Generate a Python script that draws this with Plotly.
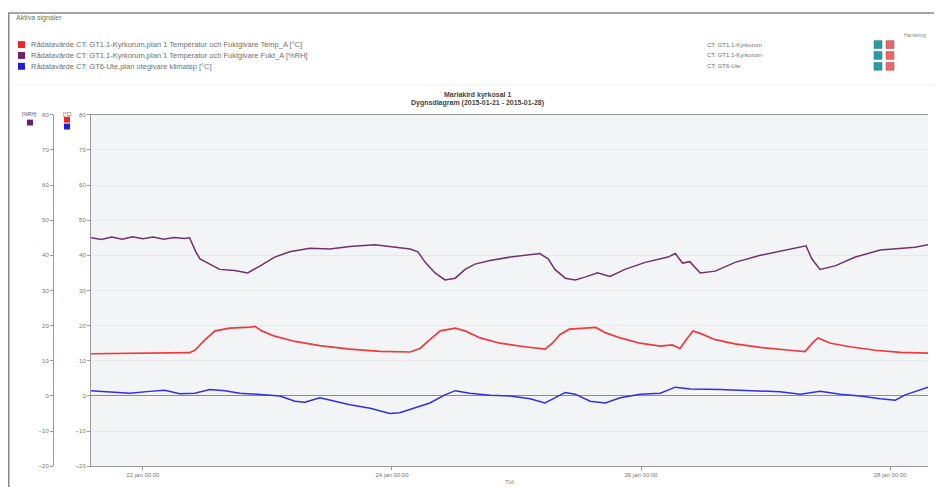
import pandas as pd
import plotly.graph_objects as go

# ---------------- data ----------------
# hours after 2015-01-21 00:00
rh_hours = [14, 16, 18, 20, 22, 24, 26, 28, 30, 32, 33, 34.2, 35, 36.9, 38.8, 41.7, 44.2, 46.6, 49.4, 52.3,
            56.2, 60, 63.9, 68.7, 72.6, 75.5, 77, 78.4, 80.3, 82.2, 84.2, 86.1, 88, 90.9, 94.8, 100.5, 102.1,
            103.4, 105.4, 107.3, 109.2, 111.6, 114, 116.9, 120.8, 125.2, 126.6, 128, 129.4, 131.4, 134.3, 138.1,
            143, 147.8, 150.7, 151.8, 152.9, 154.5, 157.4, 161.3, 166.1, 170, 172.8, 175.3]
rh_values = [45, 44.5, 45.2, 44.6, 45.3, 44.7, 45.2, 44.6, 45.1, 44.8, 45, 41, 39, 37.5, 36, 35.7, 35, 37, 39.5, 41,
             42, 41.8, 42.5, 43, 42.3, 41.8, 41, 38, 35, 33, 33.5, 36, 37.5, 38.5, 39.5, 40.5, 39,
             36, 33.5, 33, 33.8, 35, 34, 36, 38, 39.5, 40.5, 37.8, 38.2, 35, 35.5, 38,
             40, 41.5, 42.3, 42.7, 39, 36, 37, 39.5, 41.5, 42, 42.3, 43]

temp_hours = [14, 25.5, 33, 34, 36, 37.9, 40.8, 44.6, 45.6, 46.9, 49.4, 53.3, 58.1, 63.9, 69.7, 75.5, 77.4, 79.3,
              81.3, 84.2, 86.1, 89, 92.8, 97.6, 101.5, 102.9, 104.4, 106.2, 108.4, 111.3, 113.1, 116, 119.8,
              123.7, 126, 127.5, 128.7, 130, 131.4, 134.3, 138.1, 143, 148.7, 151.6, 153, 154.1, 156.5, 160.3,
              165.1, 170, 175.3]
temp_values = [12, 12.2, 12.3, 13, 16, 18.5, 19.3, 19.6, 19.8, 18.5, 17, 15.5, 14.3, 13.3, 12.7, 12.5, 13.5, 16,
               18.5, 19.3, 18.5, 16.5, 15, 14, 13.3, 15, 17.5, 19, 19.3, 19.5, 18, 16.5, 15,
               14.2, 14.5, 13.5, 16, 18.5, 17.8, 16, 14.8, 13.8, 13, 12.6, 15, 16.5, 15, 14,
               13, 12.4, 12.2]

out_hours = [14, 17.6, 21.5, 25.3, 28.2, 31.1, 34, 36.9, 39.8, 42.7, 46.6, 50.4, 53.3, 55.2, 58.1, 61, 63.9, 67.8,
             71.6, 73.5, 76.4, 79.3, 82.2, 84.2, 87, 90.9, 94.8, 98.6, 101.5, 103.4, 105.4, 107.3, 110.2, 113.1,
             116, 119.8, 123.7, 126.6, 129.5, 135.2, 141, 146.8, 150.7, 154.5, 158.4, 162.2, 166.1, 169, 170.9,
             172.8, 175.3]
out_values = [1.5, 1.2, 0.8, 1.3, 1.6, 0.6, 0.8, 1.8, 1.5, 0.8, 0.3, 0, -1.5, -1.8, -0.5, -1.5, -2.5, -3.5,
              -5, -4.8, -3.5, -2, 0.3, 1.5, 0.8, 0.2, 0, -0.8, -2, -0.5, 1, 0.5, -1.5, -2,
              -0.5, 0.5, 0.8, 2.5, 2, 1.8, 1.5, 1.2, 0.5, 1.3, 0.5, 0, -0.8, -1.2, 0.3,
              1.2, 2.5]

y_ticks = [80, 70, 60, 50, 40, 30, 20, 10, 0, -10, -20]
x_tick_times = ["2015-01-22 00:00", "2015-01-24 00:00", "2015-01-26 00:00", "2015-01-28 00:00"]
x_tick_labels = ["22 jan 00:00", "24 jan 00:00", "26 jan 00:00", "28 jan 00:00"]

series_names = [
    "Rådatavärde CT: GT1.1-Kyrkorum,plan 1 Temperatur och Fuktgivare Temp_A [°C]",
    "Rådatavärde CT: GT1.1-Kyrkorum,plan 1 Temperatur och Fuktgivare Fukt_A [%RH]",
    "Rådatavärde CT: GT6-Ute,plan utegivare klimatsp [°C]",
]
series_sources = ["CT: GT1.1-Kyrkorum", "CT: GT1.1-Kyrkorum", "CT: GT6-Ute"]
series_colors = ["#e8262b", "#6d1f78", "#1f1fd6"]
line_colors = ["#ee3a3f", "#73306f", "#3030e0"]

title_lines = ["Mariakird kyrkosal 1", "Dygnsdiagram (2015-01-21 - 2015-01-28)"]

base = pd.Timestamp("2015-01-21 00:00")
def to_time(hours):
    return [base + pd.Timedelta(hours=h) for h in hours]

# the page body has an 8px margin: the figure is placed at (8, 8)
OFF = 8
W, H = 942 - OFF, 490 - OFF
def px(x):
    return (x - OFF) / W
def py(y):
    return 1 - (y - OFF) / H

fig = go.Figure()
fig.add_trace(go.Scatter(x=to_time(temp_hours), y=temp_values, mode="lines",
                         line=dict(color=line_colors[0], width=1.7), yaxis="y", name=series_names[0]))
fig.add_trace(go.Scatter(x=to_time(rh_hours), y=rh_values, mode="lines",
                         line=dict(color=line_colors[1], width=1.5), yaxis="y2", name=series_names[1]))
fig.add_trace(go.Scatter(x=to_time(out_hours), y=out_values, mode="lines",
                         line=dict(color=line_colors[2], width=1.5), yaxis="y", name=series_names[2]))

x0, x1 = px(91), px(928)
yb, yt = py(469), py(113)
tickfont = dict(family="Liberation Sans, Arial", size=6, color="#777")

fig.update_layout(
    width=W, height=H,
    margin=dict(l=0, r=0, t=0, b=0),
    paper_bgcolor="white",
    plot_bgcolor="#f3f4f6",
    showlegend=False,
    xaxis=dict(domain=[x0, x1], type="date",
               range=[base + pd.Timedelta(hours=14), base + pd.Timedelta(hours=175.3)],
               tickvals=x_tick_times, ticktext=x_tick_labels, tickfont=tickfont,
               showgrid=False, showline=True, linecolor="#999", linewidth=1, mirror=True,
               ticks="outside", ticklen=3, tickcolor="#999", zeroline=False,
               title=dict(text="Tid", font=dict(size=6, color="#777"), standoff=2)),
    yaxis=dict(domain=[yb, yt], range=[-20, 80], tickvals=y_ticks, tickfont=tickfont,
               showgrid=True, gridcolor="#e8e9ec", gridwidth=1,
               zeroline=True, zerolinecolor="#8c8c8c", zerolinewidth=1,
               showline=True, linecolor="#999", linewidth=1, ticks="outside", ticklen=3,
               tickcolor="#999", anchor="x"),
    yaxis2=dict(overlaying="y", anchor="free", position=px(53), side="left",
                range=[-20, 80], tickvals=y_ticks, tickfont=tickfont, showgrid=False,
                zeroline=False, showline=True, linecolor="#999", linewidth=1,
                ticks="outside", ticklen=3, tickcolor="#999"),
)

shapes = []
annotations = []
font_s = dict(family="Liberation Sans, Arial", size=7.5, color="#707070")

# outer panel frame
shapes.append(dict(type="line", xref="paper", yref="paper", x0=px(8), x1=1, y0=py(10), y1=py(10),
                   line=dict(color="#888", width=1.5)))
shapes.append(dict(type="line", xref="paper", yref="paper", x0=px(8.5), x1=px(8.5), y0=py(10), y1=0,
                   line=dict(color="#888", width=2)))
shapes.append(dict(type="line", xref="paper", yref="paper", x0=px(12), x1=px(940), y0=py(83), y1=py(83),
                   line=dict(color="#eee", width=1)))
annotations.append(dict(x=px(14), y=py(15), xref="paper", yref="paper", text="Aktiva signaler",
                        showarrow=False, xanchor="left", yanchor="middle",
                        font=dict(family="Liberation Sans, Arial", size=7, color="#5a7a5a")))
annotations.append(dict(x=px(928), y=py(32), xref="paper", yref="paper", text="Hantering",
                        showarrow=False, xanchor="right", yanchor="middle",
                        font=dict(family="Liberation Sans, Arial", size=5, color="#888")))

rows_y = [42, 53, 64]
for i in range(3):
    ry = rows_y[i]
    shapes.append(dict(type="rect", xref="paper", yref="paper", x0=px(18), x1=px(25),
                       y0=py(ry + 3.5), y1=py(ry - 3.5), fillcolor=series_colors[i], line=dict(width=0)))
    annotations.append(dict(x=px(29), y=py(ry), xref="paper", yref="paper", text=series_names[i],
                            showarrow=False, xanchor="left", yanchor="middle", font=font_s))
    annotations.append(dict(x=px(705), y=py(ry), xref="paper", yref="paper", text=series_sources[i],
                            showarrow=False, xanchor="left", yanchor="middle",
                            font=dict(family="Liberation Sans, Arial", size=6, color="#707070")))
    shapes.append(dict(type="rect", xref="paper", yref="paper", x0=px(874), x1=px(882),
                       y0=py(ry + 4), y1=py(ry - 4), fillcolor="#2a9aa6", line=dict(color="#1e7a84", width=0.5)))
    shapes.append(dict(type="rect", xref="paper", yref="paper", x0=px(886), x1=px(894),
                       y0=py(ry + 4), y1=py(ry - 4), fillcolor="#e8686a", line=dict(color="#c04446", width=0.5)))

# chart title
annotations.append(dict(x=px(477), y=py(93), xref="paper", yref="paper", text="<b>" + title_lines[0] + "</b>",
                        showarrow=False, xanchor="center", yanchor="middle",
                        font=dict(family="Liberation Sans, Arial", size=7, color="#444")))
annotations.append(dict(x=px(477), y=py(101), xref="paper", yref="paper", text="<b>" + title_lines[1] + "</b>",
                        showarrow=False, xanchor="center", yanchor="middle",
                        font=dict(family="Liberation Sans, Arial", size=7, color="#444")))

# axis unit headers with colour markers
annotations.append(dict(x=px(29), y=py(112), xref="paper", yref="paper", text="[%RH]",
                        showarrow=False, xanchor="center", yanchor="middle",
                        font=dict(family="Liberation Sans, Arial", size=5, color="#555")))
annotations.append(dict(x=px(67), y=py(112), xref="paper", yref="paper", text="[°C]",
                        showarrow=False, xanchor="center", yanchor="middle",
                        font=dict(family="Liberation Sans, Arial", size=5, color="#555")))
shapes.append(dict(type="rect", xref="paper", yref="paper", x0=px(27), x1=px(33), y0=py(124), y1=py(118),
                   fillcolor=series_colors[1], line=dict(width=0)))
shapes.append(dict(type="rect", xref="paper", yref="paper", x0=px(64), x1=px(70), y0=py(121), y1=py(115),
                   fillcolor=series_colors[0], line=dict(width=0)))
shapes.append(dict(type="rect", xref="paper", yref="paper", x0=px(64), x1=px(70), y0=py(128), y1=py(122),
                   fillcolor=series_colors[2], line=dict(width=0)))

fig.update_layout(shapes=shapes, annotations=annotations)
fig.write_html("out.html")
